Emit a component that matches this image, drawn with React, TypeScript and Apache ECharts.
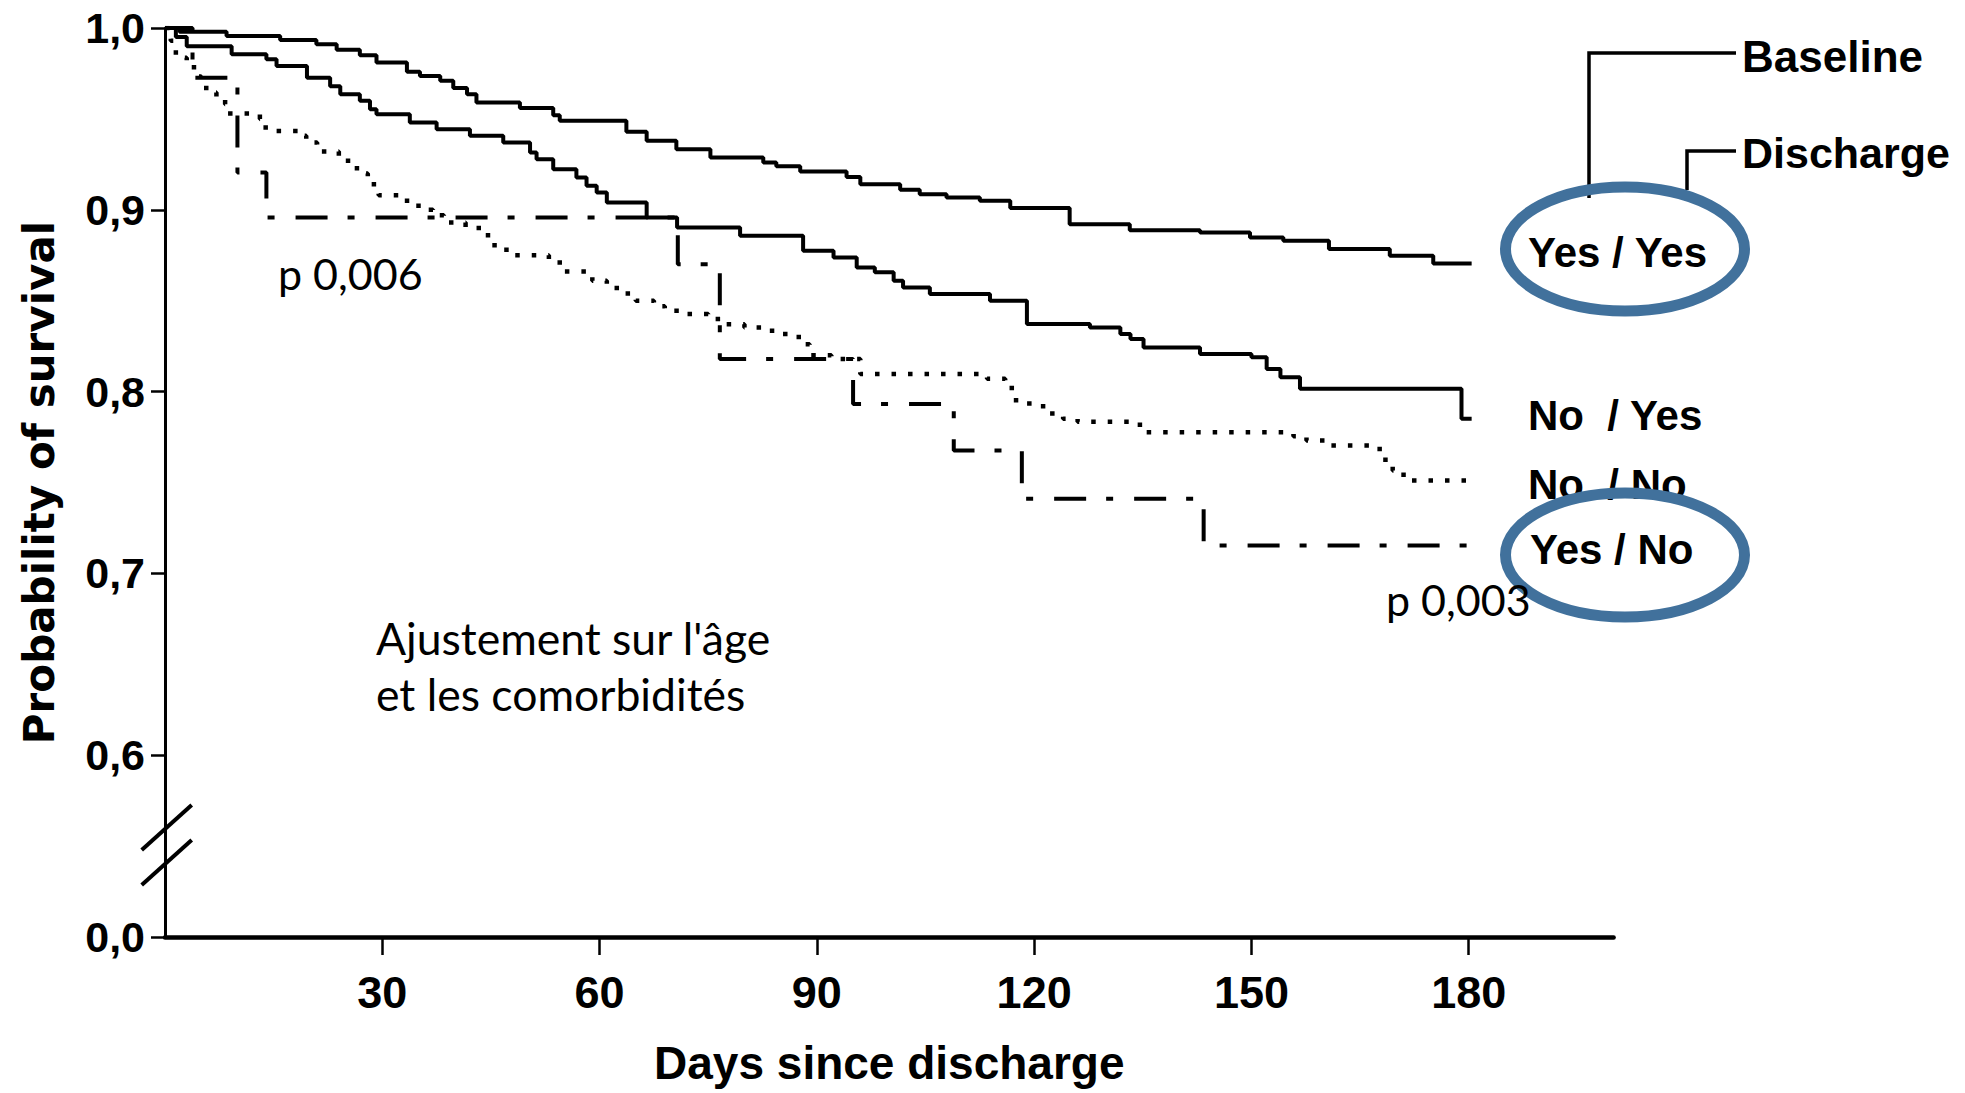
import React, { useEffect, useRef } from 'react';
import * as echarts from 'echarts';

// Kaplan–Meier survival after discharge, by physical activity at baseline / at discharge
const dayTicks = [30, 60, 90, 120, 150, 180];

// Yes / Yes (solid, upper)
const yesYesDays = [0, 2, 8.5, 15.9, 20.9, 23.7, 26.9, 29.2, 33.4, 35.2, 38, 39.8, 41.7, 43, 49, 53.6, 54.5, 63.7, 66.5, 70.6, 75.3, 82.6, 84.4, 87.7, 94.1, 96, 101.5, 104.2, 107.9, 112.5, 116.7, 124.9, 133.2, 142.9, 149.8, 154.4, 160.7, 169.1, 175.1, 180.4];
const yesYesSurvival = [1.0, 0.998, 0.9956, 0.9934, 0.991, 0.988, 0.985, 0.981, 0.976, 0.9736, 0.971, 0.967, 0.9636, 0.959, 0.956, 0.952, 0.949, 0.943, 0.938, 0.9333, 0.9287, 0.926, 0.924, 0.921, 0.918, 0.914, 0.911, 0.9086, 0.9068, 0.905, 0.901, 0.892, 0.8888, 0.8875, 0.8848, 0.883, 0.8784, 0.8747, 0.8705, 0.8705];

// No / Yes (solid, second)
const noYesDays = [0, 1.5, 3, 9.2, 14.0, 15.4, 19.6, 22.8, 24.2, 26.9, 28.3, 29.2, 33.8, 37.5, 42.1, 46.7, 50.4, 51.3, 53.6, 56.8, 58.2, 59.6, 61, 66.5, 70.7, 79.4, 88.1, 92.3, 95.5, 98, 100.6, 101.9, 105.6, 113.9, 119.0, 127.7, 131.9, 133.3, 135.1, 142.9, 150, 152.1, 154.0, 156.7, 179.0, 180.4];
const noYesSurvival = [1.0, 0.995, 0.99, 0.9855, 0.9828, 0.9791, 0.9727, 0.968, 0.9636, 0.96, 0.9553, 0.9526, 0.948, 0.9443, 0.9407, 0.937, 0.9315, 0.9278, 0.9223, 0.9178, 0.9132, 0.9095, 0.904, 0.8958, 0.8903, 0.8857, 0.8775, 0.8738, 0.8683, 0.8656, 0.861, 0.8573, 0.8537, 0.85, 0.8372, 0.8353, 0.8317, 0.829, 0.8243, 0.8207, 0.8189, 0.8125, 0.8079, 0.8015, 0.785, 0.785];

// No / No (dotted)
const noNoDays = [0, 0.8, 1.5, 3, 4, 5, 6.2, 7.1, 8.3, 8.6, 13.1, 13.9, 18.6, 19.5, 21, 24, 26.5, 28, 29.5, 33, 35, 37, 38.5, 41.5, 44, 45.5, 47.5, 53, 55, 59, 61, 63, 65, 67.5, 69, 72, 75, 77, 80, 82.6, 85, 87.5, 89, 92, 96, 113.5, 116, 117.5, 120, 122, 124, 126, 134.6, 155.8, 157.6, 160.4, 167.7, 168.5, 169.5, 171, 179.9];
const noNoSurvival = [1.0, 0.993, 0.9837, 0.981, 0.9733, 0.967, 0.9645, 0.961, 0.958, 0.953, 0.95, 0.9434, 0.9407, 0.937, 0.932, 0.927, 0.92, 0.914, 0.908, 0.905, 0.9, 0.897, 0.893, 0.89, 0.886, 0.878, 0.875, 0.871, 0.866, 0.861, 0.857, 0.854, 0.85, 0.847, 0.8445, 0.8427, 0.84, 0.837, 0.8353, 0.8335, 0.8317, 0.826, 0.82, 0.818, 0.8097, 0.807, 0.802, 0.7935, 0.792, 0.788, 0.785, 0.7834, 0.7776, 0.7755, 0.7731, 0.7703, 0.765, 0.7603, 0.7566, 0.7511, 0.7511];

// Yes / No (dash-dot)
const yesNoDays = [0, 3.8, 10.0, 14.0, 70.8, 76.6, 95.0, 108.9, 118.3, 143.4, 180.4];
const yesNoSurvival = [1.0, 0.9727, 0.9205, 0.8958, 0.87, 0.818, 0.7932, 0.7676, 0.741, 0.7154, 0.7154];

const groupLabels = ['Yes / Yes', 'No \u00a0/ Yes', 'No \u00a0/ No', 'Yes / No'];

const zip = (xs: number[], ys: number[]) => xs.map((x, i) => [x, ys[i]]);

const ARIAL = '"Liberation Sans", Arial, sans-serif';
const HUMANIST = 'Lato, "Open Sans", sans-serif';
const OUTLINE = '#41719C';

function survivalLabel(v: number) {
  if (Math.abs(v - 0.5) < 1e-6) return '0,0';
  return v.toFixed(1).replace('.', ',');
}

function kmSeries(name: string, data: number[][], dash: any, width: number) {
  return {
    name,
    type: 'line',
    step: 'end',
    data,
    symbol: 'none',
    showSymbol: false,
    lineStyle: { color: '#000', width, type: dash, cap: 'butt' },
    z: 3,
  };
}

function textEl(text: string, x: number, y: number, size: number, family: string, weight: string, z = 10) {
  return {
    type: 'text',
    x,
    y,
    z,
    style: {
      text,
      fill: '#000',
      fontSize: size,
      fontFamily: family,
      fontWeight: weight,
      textAlign: 'left',
      textVerticalAlign: 'middle',
    },
  };
}

export default function App() {
  const ref = useRef<HTMLDivElement>(null);

  useEffect(() => {
    if (!ref.current) return;
    const chart = echarts.init(ref.current, null, { renderer: 'svg' });
    chart.setOption({
      animation: false,
      backgroundColor: '#ffffff',
      grid: { left: 165, top: 28, width: 1448.6, height: 909, containLabel: false, outerBoundsMode: 'none' },
      xAxis: {
        type: 'value',
        min: 0,
        max: 200,
        interval: 30,
        splitLine: { show: false },
        axisLine: { show: true, lineStyle: { color: '#000', width: 4.5 } },
        axisTick: { show: true, length: 18, customValues: dayTicks, lineStyle: { color: '#000', width: 2.5 } },
        axisLabel: {
          customValues: dayTicks,
          margin: 33,
          color: '#000',
          fontFamily: ARIAL,
          fontWeight: 'bold',
          fontSize: 45,
        },
        name: 'Days since discharge',
        nameLocation: 'middle',
        nameGap: 103,
        nameTextStyle: { color: '#000', fontFamily: ARIAL, fontWeight: 'bold', fontSize: 46 },
      },
      yAxis: {
        type: 'value',
        min: 0.5,
        max: 1.0,
        interval: 0.1,
        splitLine: { show: false },
        axisLine: { show: true, lineStyle: { color: '#000', width: 3 } },
        axisTick: { show: true, length: 14, lineStyle: { color: '#000', width: 2.5 } },
        axisLabel: {
          formatter: survivalLabel,
          margin: 20,
          color: '#000',
          fontFamily: ARIAL,
          fontWeight: 'bold',
          fontSize: 43,
        },
        name: 'Probability of survival',
        nameLocation: 'middle',
        nameGap: 105,
        nameRotate: 90,
        nameTextStyle: { color: '#000', fontFamily: '"DejaVu Sans", sans-serif', fontWeight: 'bold', fontSize: 42 },
      },
      series: [
        kmSeries(groupLabels[0], zip(yesYesDays, yesYesSurvival), 'solid', 4),
        kmSeries(groupLabels[1], zip(noYesDays, noYesSurvival), 'solid', 4),
        kmSeries(groupLabels[2], zip(noNoDays, noNoSurvival), [4.5, 12], 4.5),
        kmSeries(groupLabels[3], zip(yesNoDays, yesNoSurvival), [32, 20, 7, 21], 4),
      ],
      graphic: [
        // axis break marks
        { type: 'line', z: 5, shape: { x1: 141.7, y1: 850, x2: 191.7, y2: 805 }, style: { stroke: '#000', lineWidth: 4 } },
        { type: 'line', z: 5, shape: { x1: 141.7, y1: 885, x2: 191.7, y2: 840 }, style: { stroke: '#000', lineWidth: 4 } },
        // Baseline / Discharge key brackets
        { type: 'polyline', z: 5, shape: { points: [[1589, 198], [1589, 53], [1736, 53]] }, style: { stroke: '#000', lineWidth: 3.5, fill: null } },
        { type: 'polyline', z: 5, shape: { points: [[1687, 190], [1687, 151], [1736, 151]] }, style: { stroke: '#000', lineWidth: 3.5, fill: null } },
        textEl('Baseline', 1742, 56, 44, ARIAL, 'bold'),
        textEl('Discharge', 1742, 153, 43, ARIAL, 'bold'),
        // group labels at curve ends
        textEl(groupLabels[0], 1528, 252, 42, ARIAL, 'bold'),
        textEl(groupLabels[1], 1528, 415, 42, ARIAL, 'bold'),
        textEl(groupLabels[2], 1528, 484, 42, ARIAL, 'bold'),
        textEl(groupLabels[3], 1530, 549, 42, ARIAL, 'bold'),
        // annotations
        textEl('p 0,006', 278, 273, 43, HUMANIST, 'normal'),
        textEl("Ajustement sur l'âge", 376, 637, 44.5, HUMANIST, 'normal'),
        textEl('et les comorbidités', 376, 693, 44.5, HUMANIST, 'normal'),
        // highlight ellipses
        { type: 'ellipse', z: 20, shape: { cx: 1625, cy: 249, rx: 119.5, ry: 62 }, style: { fill: 'none', stroke: OUTLINE, lineWidth: 11 } },
        { type: 'ellipse', z: 20, shape: { cx: 1625, cy: 555, rx: 119.5, ry: 62 }, style: { fill: 'none', stroke: OUTLINE, lineWidth: 11 } },
        textEl('p 0,003', 1386, 599, 43, HUMANIST, 'normal', 25),
      ],
    });
    return () => chart.dispose();
  }, []);

  return (
    <div
      ref={ref}
      style={{ position: 'fixed', left: 0, top: 0, width: '1965px', height: '1093px', background: '#fff' }}
    />
  );
}
